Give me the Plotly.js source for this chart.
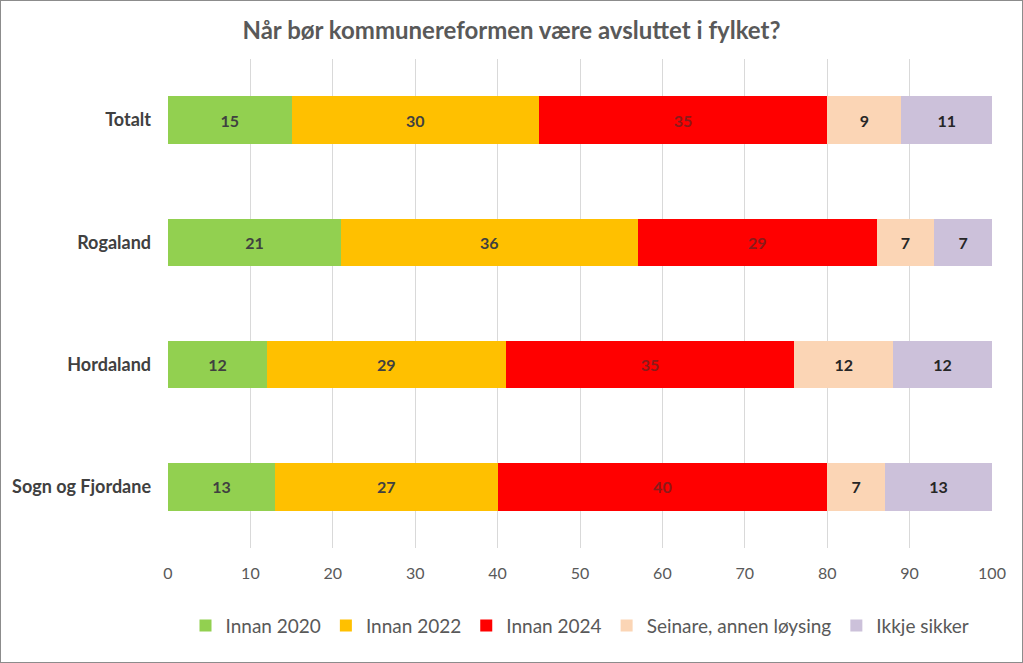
<!DOCTYPE html>
<html><head><meta charset="utf-8">
<script src="https://cdn.plot.ly/plotly-3.0.1.min.js"></script>
<style>html,body{margin:0;padding:0;background:#fff}#chart{width:1023px;height:663px;box-sizing:border-box;border:1px solid #8c8c8c}</style>
</head><body><div id="chart"></div>
<script>
const categories = ["Totalt", "Rogaland", "Hordaland", "Sogn og Fjordane"];
const seriesNames = ["Innan 2020", "Innan 2022", "Innan 2024", "Seinare, annen løysing", "Ikkje sikker"];
const innan2020 = [15, 21, 12, 13];
const innan2022 = [30, 36, 29, 27];
const innan2024 = [35, 29, 35, 40];
const seinare = [9, 7, 12, 7];
const ikkjeSikker = [11, 7, 12, 13];
const colors = ["#92d050", "#ffc000", "#ff0000", "#fbd5b5", "#ccc1da"];
const textColors = ["#404040", "#404040", "#8b1a1a", "#262626", "#262626"];
const allSeries = [innan2020, innan2022, innan2024, seinare, ikkjeSikker];
const font = "Lato, 'Open Sans', sans-serif";
const traces = allSeries.map((vals, i) => ({
  type: "bar", orientation: "h", name: seriesNames[i],
  x: vals, y: categories,
  marker: {color: colors[i]},
  text: vals.map(v => "<b>" + v + "</b>"), textposition: "inside", insidetextanchor: "middle",
  textfont: {family: font, size: 16, color: textColors[i]},
  hoverinfo: "x+name"
}));
const layout = {
  width: 1021, height: 661,
  margin: {l: 167, r: 30, t: 58, b: 114},
  barmode: "stack", bargap: 0.61,
  paper_bgcolor: "#fff", plot_bgcolor: "#fff",
  title: {text: "<b>Når bør kommunereformen være avsluttet i fylket?</b>", x: 0.5, xanchor: "center", y: 0.955, yanchor: "middle",
    font: {family: font, size: 24, color: "#595959"}},
  xaxis: {range: [0, 100], dtick: 10, showgrid: true, gridcolor: "#d9d9d9", gridwidth: 1, zeroline: false,
    showline: false, ticks: "", tickfont: {family: font, size: 16, color: "#595959"}, ticklabelstandoff: 14, fixedrange: true},
  yaxis: {autorange: "reversed", showgrid: false, zeroline: false, showline: false, ticks: "",
    tickfont: {family: font, size: 18, color: "#404040", weight: "bold"}, ticklabelstandoff: 16, fixedrange: true},
  legend: {orientation: "h", x: 0.5, xanchor: "center", y: -0.12, yanchor: "top",
    font: {family: font, size: 19, color: "#595959"}, itemwidth: 20, traceorder: "normal", itemclick: false},
  showlegend: true
};
Plotly.newPlot("chart", traces, layout, {displayModeBar: false, staticPlot: true});
</script></body></html>
